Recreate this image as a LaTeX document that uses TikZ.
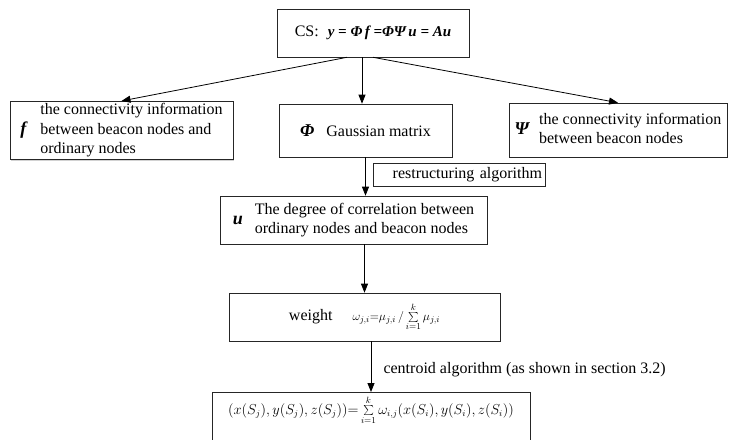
\documentclass[tikz,border=0pt]{standalone}
\usepackage{fontspec}
\setmainfont{Liberation Serif}
\usetikzlibrary{arrows.meta,positioning,calc,shadows}

\newcommand{\symb}[1]{{\fontsize{18}{18}\selectfont\bfseries\itshape #1}}

\begin{document}
\begin{tikzpicture}[x=1pt, y=-1pt,
  box/.style={draw=black!85, fill=white, line width=0.6pt, inner xsep=3pt, inner ysep=1pt, align=left,
    font=\fontsize{16}{19.5}\selectfont, drop shadow={shadow xshift=1pt, shadow yshift=-1.2pt, fill=black!35}},
  arr/.style={-{Triangle[length=9pt,width=7pt]}, line width=0.8pt}]
  \useasboundingbox (0,0) rectangle (738,439);

  %% --- TOP ---
  \node[box, minimum width=192pt, minimum height=48pt] (cs) at (373,33)
    {CS:\hspace{9pt}{\fontsize{15}{18}\selectfont\bfseries\itshape y = Φ\,f =ΦΨ\,u = Au}};

  %% --- SECOND ROW ---
  \node[box, minimum width=223pt, minimum height=55pt, inner ysep=0pt] (conn) at (121.5,130.5)
    {\symb{f}\hspace{14pt}\begin{tabular}{@{}l@{}}the connectivity information\\between beacon nodes and\\ordinary nodes\end{tabular}};
  \node[box, minimum width=173pt, minimum height=53pt] (gauss) at (365.5,130.5) {\symb{Φ}\hspace{12pt}Gaussian matrix};
  \node[box, minimum width=218pt, minimum height=54pt] (psi) at (618,130)
    {\symb{Ψ}\hspace{10pt}\begin{tabular}{@{}l@{}}the connectivity information\\between beacon nodes\end{tabular}};

  %% --- RESTRUCTURING ---
  \node[box, minimum height=23pt, text width=166pt, align=right] (restr) at (459,174.5) {restructuring algorithm};
  \node[box, minimum width=267pt, minimum height=48pt] (corr) at (353.5,220)
    {\symb{u}\hspace{12pt}\begin{tabular}{@{}l@{}}The degree of correlation between\\ordinary nodes and beacon nodes\end{tabular}};

  %% --- WEIGHT ---
  \node[box, minimum width=271pt, minimum height=48pt] (weight) at (364.5,317)
    {weight\hspace{20pt}{\fontsize{13}{15}\selectfont$\omega_{j,i}{=}\mu_{j,i}\,/\sum\limits_{i=1}^{k}\mu_{j,i}$}};

  %% --- CENTROID ---
  \node[anchor=west, font=\fontsize{16}{19.5}\selectfont] (centlbl) at (380,370) {centroid algorithm (as shown in section 3.2)};
  \node[box, anchor=north, minimum width=318pt, inner ysep=3pt, text height=19pt, text depth=40pt, align=center] (result) at (371,392)
    {\fontsize{13.5}{15}\selectfont$\bigl(x\bigl(S_j\bigr),y\bigl(S_j\bigr),z\bigl(S_j\bigr)\bigr){=}\sum\limits_{i=1}^{k}\omega_{i,j}\bigl(x\bigl(S_i\bigr),y\bigl(S_i\bigr),z\bigl(S_i\bigr)\bigr)$};

  %% --- ARROWS ---
  \coordinate (trunk) at ($(cs.south)+(-11,0)$);
  \draw[arr] ($(cs.south)+(-26,0)$) -- (conn.north);
  \draw[arr] (cs.south) -- (psi.north);
  \draw[arr] (trunk) -- (trunk |- gauss.north);
  \draw[arr] (gauss.south) -- (gauss.south |- corr.north);
  \draw[arr] (corr.south -| weight.north) -- (weight.north);
  \draw[arr] (weight.south -| result.north) -- (result.north);
\end{tikzpicture}
\end{document}
